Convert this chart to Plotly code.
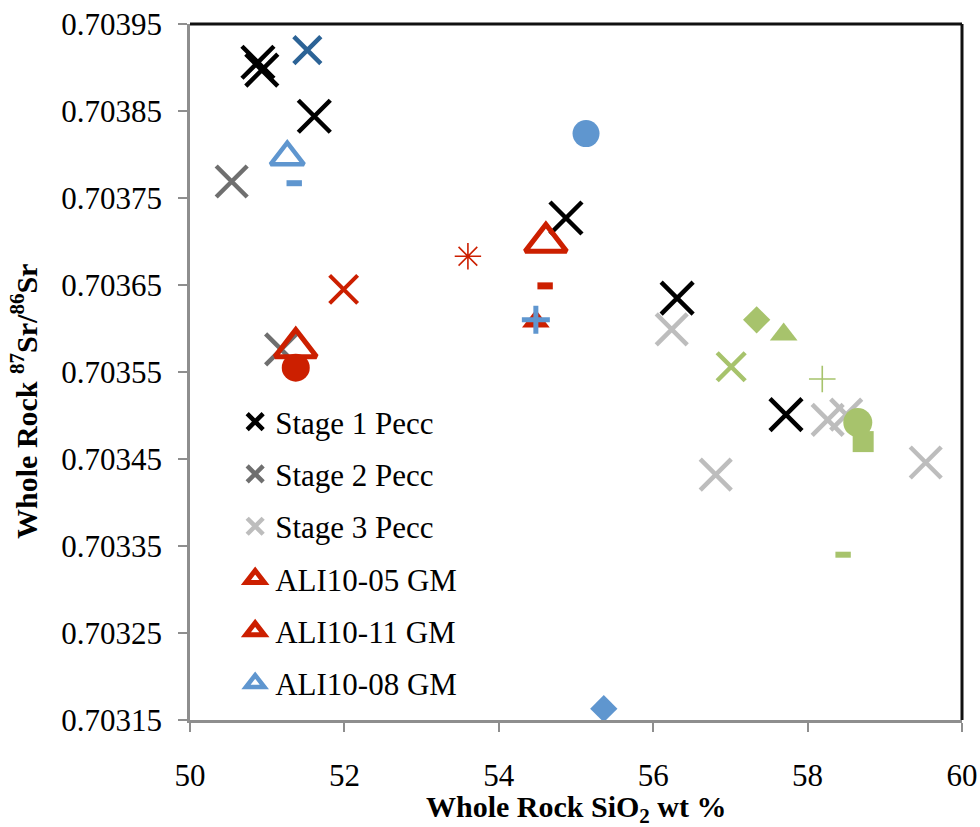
import plotly.graph_objects as go

# Whole-rock SiO2 (wt %) and 87Sr/86Sr
stage1_sio2 = [50.88, 50.93, 51.61, 54.87, 56.31, 57.72]
stage1_sr = [0.703906, 0.703897, 0.703844, 0.703727, 0.703635, 0.703501]

stage2_sio2 = [50.54, 51.18]
stage2_sr = [0.703769, 0.703576]

stage3_sio2 = [56.24, 56.81, 58.26, 58.50, 59.53]
stage3_sr = [0.703599, 0.703432, 0.703495, 0.703501, 0.703446]

ali05_sio2 = [51.37]
ali05_sr = [0.703578]

ali11_sio2 = [54.61]
ali11_sr = [0.703699]

ali08_sio2 = [51.26]
ali08_sr = [0.703797]

# further red samples
red_sio2 = [51.37, 51.99, 53.60, 54.60, 54.48]
red_sr = [0.703555, 0.703645, 0.703683, 0.703649, 0.703608]

# further light-blue samples
blue_sio2 = [51.35, 54.48, 55.13, 55.36]
blue_sr = [0.703767, 0.703610, 0.703824, 0.703163]

navy_sio2 = [51.52]
navy_sr = [0.703920]

green_sio2 = [57.34, 57.69, 57.01, 58.19, 58.65, 58.72, 58.46]
green_sr = [0.703610, 0.703593, 0.703556, 0.703542, 0.703492, 0.703470, 0.703340]

x_ticks = [50, 52, 54, 56, 58, 60]
y_ticks = [0.70315, 0.70325, 0.70335, 0.70345, 0.70355, 0.70365, 0.70375, 0.70385, 0.70395]

# ---- styling ----
BLACK = "#000000"
GREY2 = "#6f6f6f"
GREY3 = "#bdbdbd"
RED = "#cc1f00"
BLUE = "#5f96cf"
NAVY = "#2c6396"
GREEN = "#a7c36c"
AXIS_GREY = "#8e8e8e"
FONT = "Liberation Serif, Times New Roman, serif"

red_symbols = ["circle", "x-thin", "asterisk", "line-ew", "triangle-up"]
red_sizes = [28, 28, 22, 11, 24]
red_widths = [0, 4, 1.6, 7, 0]

blue_symbols = ["line-ew", "cross-thin", "circle", "diamond"]
blue_sizes = [11, 20, 27, 21]
blue_widths = [6, 5, 0, 0]

green_symbols = ["diamond", "triangle-up", "x-thin", "cross-thin", "circle", "square", "line-ew"]
green_sizes = [21, 24, 28, 19, 29, 21, 11]
green_widths = [0, 0, 4.5, 1.6, 0, 0, 6]

fig = go.Figure()


def add(xs, ys, name, symbol, size, color, width, legend, rank=None):
    fig.add_trace(go.Scatter(
        x=xs, y=ys, mode="markers", name=name,
        showlegend=legend, legendgroup=name,
        legendrank=rank if rank is not None else 1000,
        cliponaxis=False,
        marker=dict(symbol=symbol, size=size, color=color, opacity=1,
                    line=dict(color=color, width=width)),
    ))


add(stage1_sio2, stage1_sr, "Stage 1 Pecc", "x-thin", 32, BLACK, 4.5, True, 1)
add(stage2_sio2, stage2_sr, "Stage 2 Pecc", "x-thin", 31, GREY2, 4.5, True, 2)
add(stage3_sio2, stage3_sr, "Stage 3 Pecc", "x-thin", 31, GREY3, 4.5, True, 3)
add(ali05_sio2, ali05_sr, "ALI10-05 GM", "triangle-up-open", 36, RED, 5, True, 4)
add(ali11_sio2, ali11_sr, "ALI10-11 GM", "triangle-up-open", 36, RED, 5, True, 5)
add(ali08_sio2, ali08_sr, "ALI10-08 GM", "triangle-up-open", 29, BLUE, 4.5, True, 6)
add(red_sio2, red_sr, "red", red_symbols, red_sizes, RED, red_widths, False)
add(blue_sio2, blue_sr, "blue", blue_symbols, blue_sizes, BLUE, blue_widths, False)
add(navy_sio2, navy_sr, "navy", "x-thin", 27, NAVY, 4.5, False)
add(green_sio2, green_sr, "green", green_symbols, green_sizes, GREEN, green_widths, False)

x_range = [x_ticks[0], x_ticks[-1]]
y_range = [y_ticks[0], y_ticks[-1]]
tick_font = dict(family=FONT, size=31, color="#000000")

fig.update_layout(
    width=980, height=827,
    margin=dict(l=190, r=18, t=24, b=107),
    paper_bgcolor="white", plot_bgcolor="white",
    font=dict(family=FONT, size=31, color="#000000"),
    xaxis=dict(
        range=x_range, tickvals=x_ticks, ticktext=[str(v) for v in x_ticks],
        showgrid=False, zeroline=False, automargin=False,
        showline=True, linecolor=AXIS_GREY, linewidth=2.5,
        ticks="outside", ticklen=9, tickwidth=2, tickcolor=AXIS_GREY,
        tickfont=tick_font, ticklabelstandoff=17,
    ),
    yaxis=dict(
        range=y_range, tickvals=y_ticks, ticktext=[f"{v:.5f}" for v in y_ticks],
        showgrid=False, zeroline=False, automargin=False,
        showline=True, linecolor=AXIS_GREY, linewidth=2.5,
        ticks="outside", ticklen=9, tickwidth=2, tickcolor=AXIS_GREY,
        tickfont=tick_font, ticklabelstandoff=10,
    ),
    # inward halves of the crossing tick marks
    xaxis2=dict(
        range=x_range, tickvals=x_ticks, overlaying="x", anchor="y",
        showticklabels=False, showgrid=False, zeroline=False, showline=False,
        ticks="inside", ticklen=9, tickwidth=2, tickcolor=AXIS_GREY,
    ),
    yaxis2=dict(
        range=y_range, tickvals=y_ticks, overlaying="y", anchor="x",
        showticklabels=False, showgrid=False, zeroline=False, showline=False,
        ticks="inside", ticklen=9, tickwidth=2, tickcolor=AXIS_GREY,
    ),
    legend=dict(
        x=0.0585, y=0.467, xanchor="left", yanchor="top",
        bgcolor="rgba(0,0,0,0)", borderwidth=0,
        traceorder="grouped", tracegroupgap=9,
        font=dict(family=FONT, size=31),
    ),
    shapes=[
        dict(type="line", xref="paper", yref="paper", x0=0, x1=1, y0=1, y1=1,
             line=dict(color="#111111", width=3)),
        dict(type="line", xref="paper", yref="paper", x0=1, x1=1, y0=0, y1=1,
             line=dict(color="#111111", width=3)),
    ],
    annotations=[
        dict(text="<b>Whole Rock SiO<sub>2</sub> wt %</b>",
             xref="paper", yref="paper", x=0.5, y=-0.1275,
             xanchor="center", yanchor="middle", showarrow=False,
             font=dict(family=FONT, size=30)),
        dict(text="<b>Whole Rock <sup>87</sup>Sr/<sup>86</sup>Sr</b>",
             xref="paper", yref="paper", x=-0.215, y=0.457,
             xanchor="center", yanchor="middle", textangle=-90, showarrow=False,
             font=dict(family=FONT, size=30)),
    ],
)

fig.write_html("out.html")
